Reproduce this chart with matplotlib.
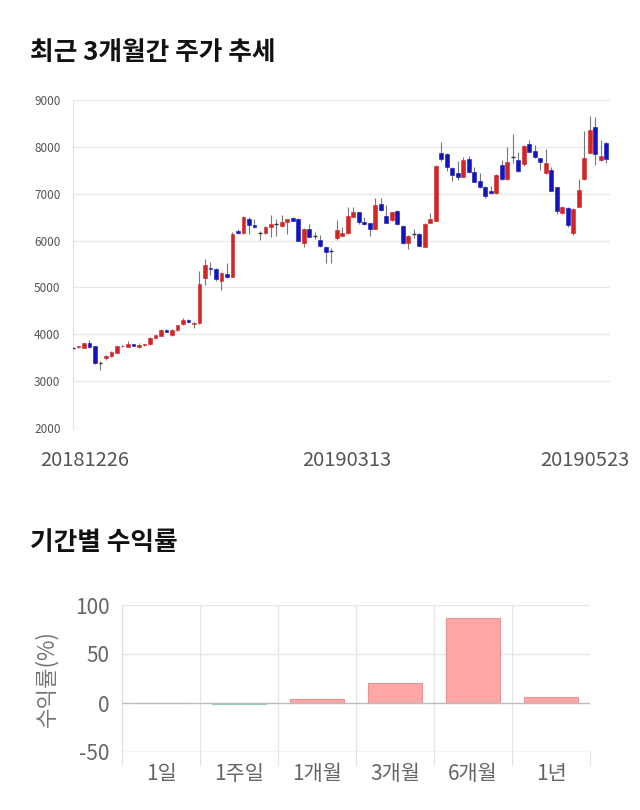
import matplotlib
matplotlib.use("Agg")
import matplotlib.pyplot as plt
from matplotlib.patches import Rectangle

plt.rcParams['font.family'] = ['Noto Sans CJK KR', 'DejaVu Sans']

# ---------------- data ----------------
opens = [3700, 3720, 3705, 3810, 3740, 3400, 3485, 3540, 3610, 3760,
         3730, 3790, 3730, 3765, 3790, 3930, 3970, 4095, 3975, 4095,
         4215, 4310, 4225, 4240, 5198, 5410, 5400, 5140, 5283, 5233,
         6207, 6157, 6456, 6335, 6170, 6157, 6300, 6345, 6320, 6392,
         6490, 6463, 5958, 6243, 6100, 6015, 5873, 5770, 6058, 6107,
         6157, 6513, 6605, 6406, 6370, 6250, 6790, 6534, 6441, 6633,
         6314, 5958, 6143, 6143, 5873, 6385, 6427, 7863, 7850, 7543,
         7436, 7365, 7742, 7457, 7273, 7152, 7060, 7010, 7614, 7308,
         7775, 7721, 7628, 8062, 7920, 7756, 7450, 7500, 7138, 6583,
         6705, 6157, 6726, 7316, 7877, 8431, 7721, 8076, 7842]
closes = [3710, 3740, 3810, 3720, 3385, 3395, 3540, 3630, 3740, 3740,
          3790, 3760, 3775, 3790, 3930, 3975, 4095, 4050, 4095, 4190,
          4310, 4260, 4250, 5077, 5468, 5390, 5183, 5300, 5212, 6143,
          6157, 6513, 6335, 6285, 6157, 6300, 6356, 6350, 6392, 6456,
          6427, 6000, 6243, 6086, 6105, 5887, 5752, 5766, 6236, 6157,
          6527, 6605, 6406, 6356, 6250, 6761, 6655, 6385, 6605, 6349,
          5944, 6100, 6145, 5894, 6356, 6463, 7592, 7742, 7564, 7400,
          7365, 7721, 7457, 7259, 7152, 6960, 7010, 7400, 7308, 7685,
          7780, 7486, 8026, 7898, 7778, 7671, 7650, 7067, 6634, 6726,
          6335, 6669, 7081, 7756, 8360, 7842, 7813, 7742, 7628]
highs = [3720, 3760, 3820, 3880, 3760, 3420, 3560, 3650, 3750, 3780,
         3850, 3800, 3820, 3800, 3940, 3990, 4110, 4110, 4110, 4200,
         4350, 4320, 4270, 5361, 5603, 5550, 5420, 5320, 5530, 6190,
         6240, 6530, 6513, 6456, 6200, 6320, 6540, 6456, 6540, 6470,
         6500, 6480, 6260, 6350, 6190, 6120, 5890, 5840, 6440, 6300,
         6720, 6720, 6620, 6510, 6380, 6900, 6900, 6760, 6620, 6650,
         6330, 6120, 6250, 6160, 6370, 6580, 7610, 8112, 7870, 7560,
         7690, 7790, 7800, 7560, 7450, 7170, 7160, 7420, 7720, 7990,
         8275, 7900, 8040, 8140, 8040, 7770, 7950, 7560, 7150, 6740,
         6720, 6690, 7310, 8340, 8660, 8630, 8140, 8110, 7860]
lows = [3690, 3710, 3700, 3710, 3370, 3245, 3450, 3520, 3600, 3730,
        3720, 3740, 3700, 3750, 3780, 3920, 3960, 4040, 3960, 4080,
        4200, 4250, 4130, 4220, 5055, 5270, 5130, 4950, 5200, 5220,
        6130, 6140, 6150, 6270, 6015, 6140, 6086, 6100, 6300, 6143,
        6410, 5990, 5870, 6070, 6030, 5870, 5517, 5517, 6015, 6090,
        6140, 6500, 6350, 6340, 6100, 6240, 6640, 6370, 6420, 6330,
        5930, 5830, 6050, 5880, 5860, 6370, 6410, 7700, 7490, 7280,
        7300, 7350, 7440, 7240, 7130, 6900, 6990, 6990, 7290, 7290,
        7650, 7470, 7600, 7880, 7760, 7500, 7430, 7050, 6560, 6570,
        6290, 6120, 6710, 7300, 7860, 7620, 7700, 7650, 7520]
date_labels = ["20181226", "20190313", "20190523"]
date_index = [0, 49, 98]
price_ticks = [2000, 3000, 4000, 5000, 6000, 7000, 8000, 9000]

periods = ["1일", "1주일", "1개월", "3개월", "6개월", "1년"]
returns = [0.0, -0.6, 4.4, 20.1, 86.3, 6.5]
return_ticks = [-50, 0, 50, 100]

# ---------------- figure ----------------
fig = plt.figure(figsize=(6.4, 8.1), dpi=100)
fig.patch.set_facecolor("white")

W, H = 640.0, 810.0

def ax_rect(x0, y0, x1, y1):
    return [x0 / W, 1 - y1 / H, (x1 - x0) / W, (y1 - y0) / H]

fig.text(30 / W, 1 - 52 / H, "최근 3개월간 주가 추세", fontsize=18.5, fontweight="black",
         color="#111111", va="center", ha="left")
fig.text(30 / W, 1 - 543 / H, "기간별 수익률", fontsize=18.5, fontweight="black",
         color="#111111", va="center", ha="left")

# ---------------- candlestick ----------------
ax = fig.add_axes(ax_rect(73, 100, 610, 428))
up_c, dn_c = "#D22626", "#1414BE"
bw = 0.68
for i in range(len(opens)):
    o, c, h, l = opens[i], closes[i], highs[i], lows[i]
    up = c >= o
    col = up_c if up else dn_c
    ax.vlines(i, l, h, color="#777777", linewidth=0.8, zorder=2)
    bot = min(o, c)
    hgt = abs(c - o)
    if hgt < 15:
        ax.hlines((o + c) / 2, i - bw / 2, i + bw / 2, color="#333333", linewidth=1.0, zorder=3)
    else:
        ax.add_patch(Rectangle((i - bw / 2, bot), bw, hgt, facecolor=col,
                               edgecolor=col, linewidth=0.4, zorder=3))

ax.set_xlim(0, 97.7)
ax.set_ylim(2000, 9000)
ax.set_yticks(price_ticks)
ax.set_yticklabels([str(v) for v in price_ticks])
ax.tick_params(axis="y", length=0, pad=9, labelsize=8.5, labelcolor="#555555")
ax.set_xticks([])
ax.grid(axis="y", color="#E8E8E8", linewidth=0.9)
ax.set_axisbelow(True)
for s in ["top", "right", "bottom"]:
    ax.spines[s].set_visible(False)
ax.spines["left"].set_color("#E0E0E0")

has = ["left", "center", "right"]
offs = [-33, 4, 18]
for lab, idx, ha, off in zip(date_labels, date_index, has, offs):
    ax.annotate(lab, xy=(idx, 0), xycoords=("data", "axes fraction"),
                xytext=(off, -33), textcoords="offset pixels",
                ha=ha, va="center", fontsize=14.5, color="#555555",
                annotation_clip=False)

# ---------------- returns bar chart ----------------
ax2 = fig.add_axes(ax_rect(122, 605, 590, 752))
xs = list(range(len(periods)))
colors = ["#FFA6A6" if v >= 0 else "#A9DCD6" for v in returns]
edges = ["#E99494" if v >= 0 else "#94CCC5" for v in returns]
ax2.bar(xs, returns, width=0.7, color=colors, edgecolor=edges, linewidth=0.8, zorder=3)
ax2.set_xlim(-0.5, len(periods) - 0.5)
ax2.set_ylim(-50, 100)
ax2.set_yticks(return_ticks)
ax2.set_yticklabels([str(v) for v in return_ticks])
ax2.set_xticks(xs)
ax2.set_xticklabels(periods)
ax2.set_xticks([x - 0.5 for x in range(len(periods) + 1)], minor=True)
ax2.tick_params(axis="x", which="major", length=0, pad=8, labelsize=15, labelcolor="#666666")
ax2.tick_params(axis="x", which="minor", length=9, width=0.8, color="#E0E0E0")
ax2.tick_params(axis="y", length=0, pad=9, labelsize=15, labelcolor="#666666")
ax2.grid(axis="y", which="major", color="#E6E6E6", linewidth=0.9, zorder=0)
ax2.grid(axis="x", which="minor", color="#E6E6E6", linewidth=0.9, zorder=0)
ax2.axhline(0, color="#BBBBBB", linewidth=0.9, zorder=4)
ax2.axhline(-50, color="#CCCCCC", linewidth=0.9, zorder=2)
for s in ["top", "right", "bottom"]:
    ax2.spines[s].set_visible(False)
ax2.spines["left"].set_color("#DDDDDD")
ax2.set_ylabel("수익률(%)", fontsize=16, color="#777777", labelpad=12)

fig.savefig("out.png", dpi=100, facecolor="white")
